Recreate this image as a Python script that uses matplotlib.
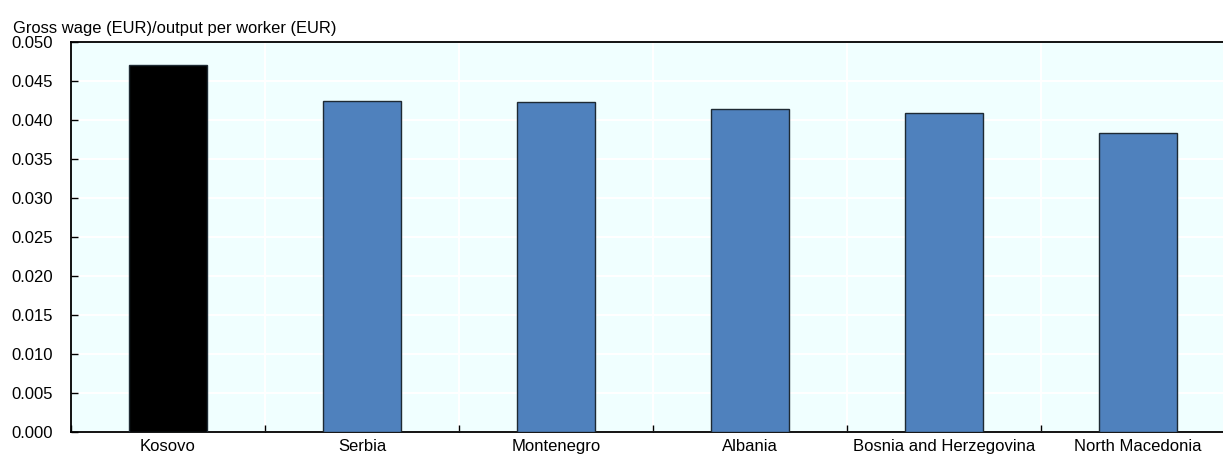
import matplotlib
matplotlib.use("Agg")
import matplotlib.pyplot as plt
import numpy as np

countries = ["Kosovo", "Serbia", "Montenegro", "Albania",
             "Bosnia and Herzegovina", "North Macedonia"]
ratio = [0.0470, 0.04248, 0.04227, 0.04145, 0.04094, 0.03837]
colors = ["#000000", "#4F81BD", "#4F81BD", "#4F81BD", "#4F81BD", "#4F81BD"]
yticks = [0.000, 0.005, 0.010, 0.015, 0.020, 0.025, 0.030, 0.035, 0.040, 0.045, 0.050]

plt.rcParams["font.family"] = ["Liberation Sans", "DejaVu Sans"]

W, H = 1223, 457
fig = plt.figure(figsize=(W / 100, H / 100), dpi=100)
# axes runs a bit past the right edge of the picture, like the reference
ax = fig.add_axes([71 / W, (H - 432) / H, (1235 - 71) / W, 390 / H])
ax.set_facecolor("#F0FFFF")

x = np.arange(len(countries))
ax.bar(x, ratio, width=0.4, color=colors, edgecolor="#1e2a33", linewidth=1.0, zorder=3)

ax.set_xlim(-0.5, len(countries) - 0.5)
ax.set_ylim(0, 0.05)
ax.set_yticks(yticks)
ax.set_yticklabels([f"{v:.3f}" for v in yticks])
ax.set_xticks(x)
ax.set_xticklabels(countries)
ax.set_xticks(np.arange(len(countries) + 1) - 0.5, minor=True)

ax.tick_params(axis="y", direction="in", length=5, width=1, labelsize=12, pad=13)
ax.tick_params(axis="x", which="major", length=0, labelsize=12, pad=5)
ax.tick_params(axis="x", which="minor", direction="in", length=5, width=1)

ax.grid(axis="y", color="white", linewidth=1.5, zorder=0)
ax.grid(axis="x", which="minor", color="white", linewidth=1.5, zorder=0)
ax.set_axisbelow(True)

for side in ["left", "bottom", "top"]:
    ax.spines[side].set_color("black")
    ax.spines[side].set_linewidth(1.3)
ax.spines["right"].set_visible(False)

fig.text(13 / W, 1 - 28 / H, "Gross wage (EUR)/output per worker (EUR)",
         fontsize=11.9, ha="left", va="center")

fig.savefig("out.png", dpi=100)
